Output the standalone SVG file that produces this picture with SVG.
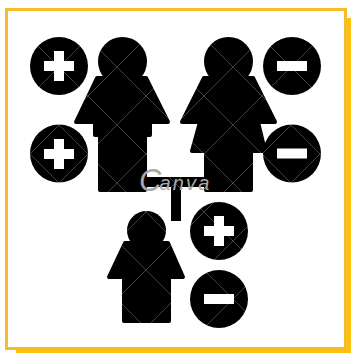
<svg xmlns="http://www.w3.org/2000/svg" width="351" height="353" viewBox="0 0 351 353">
<style>
.b{fill:#000;stroke:#000;stroke-width:4;stroke-linejoin:round}
.c{fill:#000}
.w{fill:#fff}
.y{fill:#f4bb2a}
.z{fill:#fdc00c}
.t{font-family:"Liberation Sans",sans-serif;font-style:italic;fill:#a8a8a8}
</style>
<defs>
<pattern id="lattice" patternUnits="userSpaceOnUse" width="58" height="58" patternTransform="translate(1 9)">
<path d="M0 0L58 58M58 0L0 58" stroke="#fff" stroke-opacity=".32" stroke-width=".8" fill="none"/>
</pattern>
</defs>
<rect width="351" height="353" fill="#fff"/>
<g id="frame">
<rect class="z" x="347" y="18" width="4" height="335"/>
<rect class="z" x="16" y="350" width="335" height="3"/>
<rect class="y" x="5" y="8" width="342" height="3"/>
<rect class="y" x="5" y="8" width="3" height="342"/>
<rect class="y" x="344" y="8" width="3" height="342"/>
<rect class="y" x="5" y="347" width="342" height="3"/>
</g>
<g id="connectors">
<rect class="c" x="146" y="177" width="59" height="10"/>
<rect class="c" x="171" y="186" width="10" height="35"/>
</g>
<g id="parent-left">
<circle class="c" cx="122.500" cy="61.500" r="24.500"/>
<path class="b" d="M97 78H146L168 122H150V135H145V190H100V135H95V122H76Z"/>
</g>
<g id="parent-right">
<circle class="c" cx="228.500" cy="61.500" r="24.500"/>
<path class="b" d="M204 78H253L275 122H258L265 151H251V190H206V151H192L200 122H182Z"/>
</g>
<g id="child">
<circle class="c" cx="146.500" cy="230.500" r="19.500"/>
<path class="b" d="M125 243H168L183 277H169V321H124V277H109Z"/>
</g>
<g id="plus-1"><circle class="c" cx="59" cy="66" r="29"/><path class="w" d="M54 51H64V61H74V71H64V81H54V71H44V61H54Z"/></g>
<g id="plus-2"><circle class="c" cx="59" cy="153.500" r="29"/><path class="w" d="M54 139H64V149H74V159H64V169H54V159H44V149H54Z"/></g>
<g id="minus-1"><circle class="c" cx="292" cy="66" r="29"/><rect class="w" x="277" y="61" width="30" height="10"/></g>
<g id="minus-2"><circle class="c" cx="292" cy="153.500" r="29"/><rect class="w" x="277" y="148.500" width="30" height="10"/></g>
<g id="plus-3"><circle class="c" cx="219" cy="231" r="29"/><path class="w" d="M214 216H224V226H234V236H224V246H214V236H204V226H214Z"/></g>
<g id="minus-3"><circle class="c" cx="219" cy="299" r="29"/><rect class="w" x="204" y="294" width="30" height="10"/></g>
<g id="watermark">
<rect x="8" y="11" width="336" height="336" fill="url(#lattice)"/>
<text class="t" x="139" y="191"><tspan font-size="31">C</tspan><tspan font-size="20" dx="-2" dy="-1" textLength="50">anva</tspan></text>
</g>
</svg>
